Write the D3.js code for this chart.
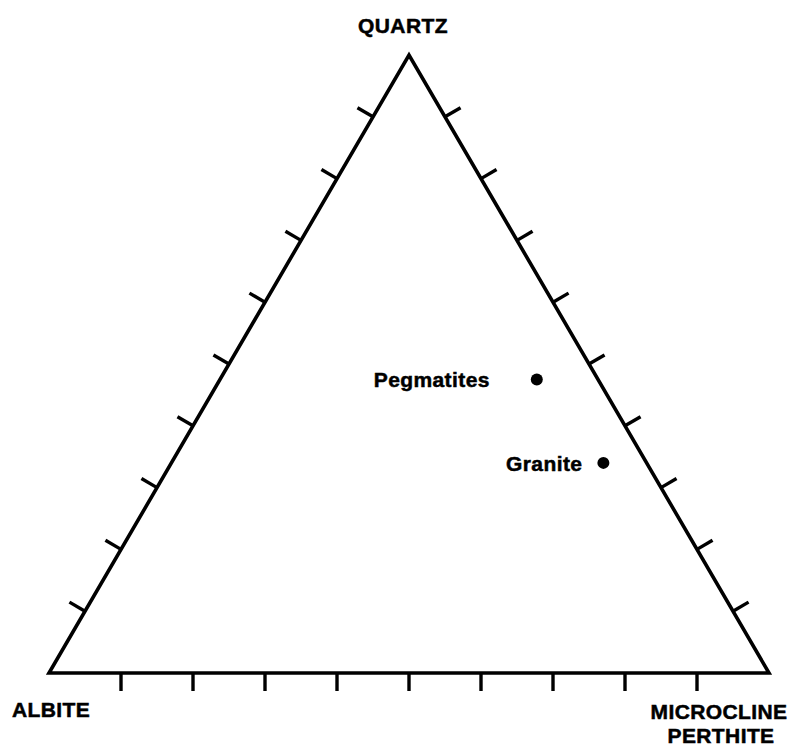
<!DOCTYPE html>
<html>
<head>
<meta charset="utf-8">
<script src="https://cdn.jsdelivr.net/npm/d3@7"></script>
<style>
  body { margin: 0; background: #fff; }
  text { font-family: "Liberation Sans", Arial, sans-serif; font-weight: bold; fill: #000; letter-spacing: 0.4px; stroke: #000; stroke-width: 0.5px; }
</style>
</head>
<body>
<div id="chart"></div>
<script>
// Ternary diagram data (percent)
const samples = ['Pegmatites', 'Granite'];
const quartz = [47.5, 34];
const microcline = [44, 60];
const albite = [8.5, 6];
const tickValues = [10, 20, 30, 40, 50, 60, 70, 80, 90];

const W = 792, H = 746;
const TICK = 18;

const svg = d3.select('#chart').append('svg')
    .attr('width', W)
    .attr('height', H);

// base runs from albite (0) to microcline (1); height from base (0) to quartz apex (1)
const xScale = d3.scaleLinear().domain([0, 1]).range([49, 769]);
const yScale = d3.scaleLinear().domain([0, 1]).range([673, 55]);

// barycentric (q, a, m) in percent -> pixel
function project(q, a, m) {
    const s = q + a + m;
    const qq = q / s, mm = m / s;
    return [xScale(mm + qq * 0.5), yScale(qq)];
}

const vA = project(0, 100, 0);
const vM = project(0, 0, 100);
const vQ = project(100, 0, 0);

// Triangle outline
svg.append('path')
    .attr('d', d3.line()([vA, vM, vQ]) + 'Z')
    .attr('fill', 'none')
    .attr('stroke', '#000')
    .attr('stroke-width', 3.6)
    .attr('stroke-linejoin', 'miter');

// outward normal of an edge (p1 -> p2), pointing away from the opposite vertex
function outward(p1, p2, opp) {
    let nx = p2[1] - p1[1], ny = -(p2[0] - p1[0]);
    const len = Math.hypot(nx, ny);
    nx /= len; ny /= len;
    const mx = (p1[0] + p2[0]) / 2, my = (p1[1] + p2[1]) / 2;
    if ((opp[0] - mx) * nx + (opp[1] - my) * ny > 0) { nx = -nx; ny = -ny; }
    return [nx, ny];
}

const edges = [
    { from: vA, to: vM, opp: vQ },  // base
    { from: vA, to: vQ, opp: vM },  // left
    { from: vM, to: vQ, opp: vA }   // right
];

edges.forEach(e => {
    const n = outward(e.from, e.to, e.opp);
    svg.append('g').selectAll('line')
        .data(tickValues)
        .enter()
        .append('line')
        .each(function(d) {
            const t = d / 100;
            const px = e.from[0] + (e.to[0] - e.from[0]) * t;
            const py = e.from[1] + (e.to[1] - e.from[1]) * t;
            d3.select(this)
                .attr('x1', px).attr('y1', py)
                .attr('x2', px + n[0] * TICK).attr('y2', py + n[1] * TICK);
        })
        .attr('stroke', '#000')
        .attr('stroke-width', 3.4);
});

// Vertex labels
svg.append('text')
    .attr('x', vQ[0] - 6).attr('y', 33)
    .attr('text-anchor', 'middle')
    .style('font-size', '21px')
    .text('QUARTZ');

svg.append('text')
    .attr('x', 12).attr('y', 717)
    .style('font-size', '21px')
    .text('ALBITE');

svg.append('text')
    .attr('x', 719).attr('y', 719)
    .attr('text-anchor', 'middle')
    .style('font-size', '21px')
    .text('MICROCLINE');

svg.append('text')
    .attr('x', 721).attr('y', 743)
    .attr('text-anchor', 'middle')
    .style('font-size', '21px')
    .text('PERTHITE');

// Sample points
const pts = samples.map((s, i) => ({ name: s, p: project(quartz[i], albite[i], microcline[i]) }));
const labelGap = [47, 21];

svg.selectAll('.pt')
    .data(pts)
    .enter()
    .append('circle')
    .attr('class', 'pt')
    .attr('cx', d => d.p[0])
    .attr('cy', d => d.p[1])
    .attr('r', 6)
    .attr('fill', '#000');

svg.selectAll('.pt-label')
    .data(pts)
    .enter()
    .append('text')
    .attr('class', 'pt-label')
    .attr('x', (d, i) => d.p[0] - labelGap[i])
    .attr('y', d => d.p[1] + 8)
    .attr('text-anchor', 'end')
    .style('font-size', '21px')
    .text(d => d.name);
</script>
</body>
</html>
